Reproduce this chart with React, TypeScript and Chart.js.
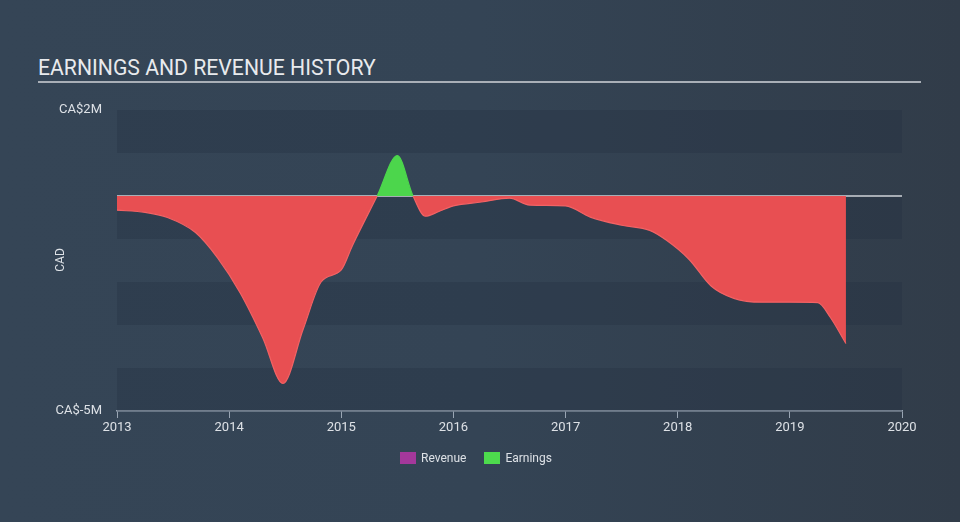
import React, { useEffect, useRef } from "react";
import { Chart, registerables } from "chart.js";

Chart.register(...registerables);

const years: number[] = [
  2013.0, 2013.25, 2013.45, 2013.7, 2013.9, 2014.1, 2014.3, 2014.48, 2014.66, 2014.82,
  2015.0, 2015.1, 2015.32, 2015.5, 2015.64, 2015.75, 2015.87, 2016.0, 2016.25, 2016.5,
  2016.68, 2017.0, 2017.22, 2017.5, 2017.75, 2017.9, 2018.1, 2018.3, 2018.5, 2018.75,
  2019.0, 2019.25, 2019.36, 2019.5,
];
const earnings: number[] = [
  -0.33, -0.38, -0.5, -0.85, -1.45, -2.26, -3.3, -4.36, -3.1, -2.0,
  -1.72, -1.15, 0, 0.94, 0, -0.47, -0.36, -0.23, -0.14, -0.05,
  -0.21, -0.23, -0.49, -0.68, -0.8, -1.03, -1.47, -2.1, -2.38, -2.47,
  -2.47, -2.48, -2.82, -3.43,
];
const revenue: number[] = [];
const yTickLabels: Record<number, string> = { 2: "CA$2M", [-5]: "CA$-5M" };
const xMin = 2013;
const xMax = 2020;

const RED = "#e84f52";
const GREEN = "#4cd64c";

const bgPlugin = {
  id: "bands",
  beforeDatasetsDraw(chart: any) {
    const { ctx, chartArea, scales } = chart;
    const y = scales.y;
    ctx.save();
    ctx.fillStyle = "rgba(38,50,65,0.35)";
    for (const k of [1, -1, -3, -5]) {
      const top = y.getPixelForValue(k + 1);
      const bot = y.getPixelForValue(k);
      ctx.fillRect(chartArea.left, top, chartArea.right - chartArea.left, bot - top);
    }
    const y0 = y.getPixelForValue(0);
    ctx.strokeStyle = "#cfd3d8";
    ctx.lineWidth = 1.5;
    ctx.beginPath();
    ctx.moveTo(chartArea.left, y0);
    ctx.lineTo(chartArea.right, y0);
    ctx.stroke();
    ctx.restore();
  },
  afterDraw(chart: any) {
    const { ctx } = chart;
    ctx.save();
    ctx.fillStyle = "#dde1e6";
    ctx.font = "12px Roboto";
    ctx.textAlign = "center";
    ctx.textBaseline = "middle";
    ctx.translate(61, 260);
    ctx.rotate(-Math.PI / 2);
    ctx.fillText("CAD", 0, 0);
    ctx.restore();
  },
};

export default function App() {
  const ref = useRef<HTMLCanvasElement>(null);
  useEffect(() => {
    if (!ref.current) return;
    const chart = new Chart(ref.current, {
      type: "line",
      data: {
        datasets: [
          {
            label: "Revenue",
            data: revenue.map((v, i) => ({ x: years[i], y: v })),
            borderColor: "#a4389b",
            backgroundColor: "#a4389b",
          },
          {
            label: "Earnings",
            data: years.map((x, i) => ({ x, y: earnings[i] })),
            borderWidth: 1.2,
            borderColor: "#f26264",
            segment: {
              borderColor: (c: any) =>
                c.p0.parsed.y >= 0 && c.p1.parsed.y >= 0 ? GREEN : "#f26264",
            },
            fill: { target: "origin", above: GREEN, below: RED },
            pointRadius: 0,
            cubicInterpolationMode: "monotone",
          },
        ],
      },
      options: {
        animation: false,
        responsive: false,
        devicePixelRatio: 1,
        layout: { padding: { left: 0, right: 58, top: 110, bottom: 0 } },
        plugins: { legend: { display: false }, tooltip: { enabled: false } },
        scales: {
          x: {
            type: "linear",
            min: xMin,
            max: xMax,
            afterFit: (s: any) => {
              s.height = 111;
            },
            ticks: {
              stepSize: 1,
              color: "#dde1e6",
              font: { family: "Roboto", size: 13 },
              padding: 2,
              callback: (v: any) => String(v),
              maxRotation: 0,
            },
            grid: {
              drawOnChartArea: false,
              drawTicks: true,
              tickLength: 7,
              color: "#9aa6b4",
            },
            border: { display: true, color: "#9aa6b4", width: 1.5 },
          },
          y: {
            min: -5,
            max: 2,
            afterFit: (s: any) => {
              s.width = 117;
            },
            ticks: {
              stepSize: 1,
              color: "#dde1e6",
              font: { family: "Roboto", size: 13 },
              padding: 15,
              autoSkip: false,
              callback: (v: any) => yTickLabels[v as number] ?? "",
            },
            grid: { display: false, drawTicks: false },
            border: { display: false },
          },
        },
      },
      plugins: [bgPlugin],
    });
    return () => chart.destroy();
  }, []);

  return (
    <div
      style={{
        position: "fixed",
        left: 0,
        top: 0,
        width: 960,
        height: 522,
        background: "linear-gradient(90deg, #354556 0%, #344455 50%, #313c49 100%)",
        fontFamily: "Roboto",
        overflow: "hidden",
      }}
    >
      <div
        style={{
          position: "absolute",
          left: 38,
          top: 55,
          fontSize: 21.2,
          color: "#e8eaed",
          lineHeight: "26px",
          whiteSpace: "nowrap",
        }}
      >
        EARNINGS AND REVENUE HISTORY
      </div>
      <div
        style={{
          position: "absolute",
          left: 38,
          top: 81,
          width: 883,
          height: 2,
          background: "#a9afb7",
        }}
      />
      <canvas ref={ref} width={960} height={522} style={{ position: "absolute", left: 0, top: 0 }} />
      <div
        style={{
          position: "absolute",
          top: 450,
          left: 400,
          display: "flex",
          alignItems: "center",
          fontSize: 12,
          color: "#dde1e6",
          lineHeight: "16px",
        }}
      >
        <span style={{ width: 16, height: 12, background: "#a4389b", display: "inline-block" }} />
        <span style={{ marginLeft: 5 }}>Revenue</span>
        <span style={{ width: 16, height: 12, background: "#4ddb4d", display: "inline-block", marginLeft: 18 }} />
        <span style={{ marginLeft: 5 }}>Earnings</span>
      </div>
    </div>
  );
}
